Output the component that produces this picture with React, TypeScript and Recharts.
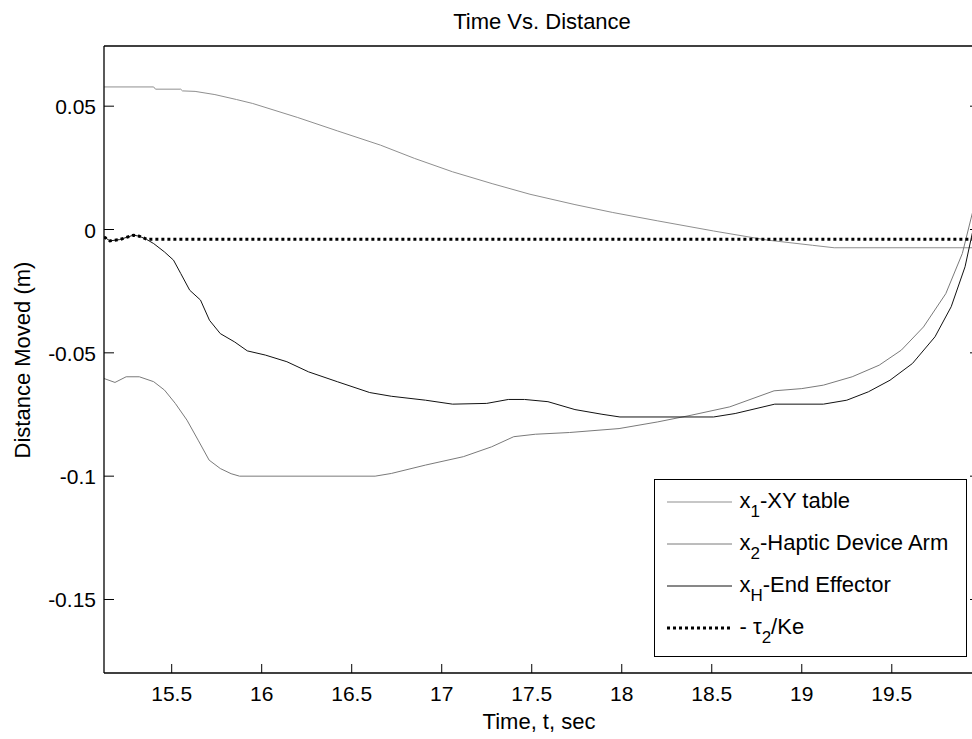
import React from 'react';
import { LineChart, Line, XAxis, YAxis, Legend } from 'recharts';

const FONT = '"Liberation Sans", Arial, Helvetica, sans-serif';

// x1 - XY table (time in sec, distance in m)
const tableTime = [15.124, 15.4, 15.41, 15.55, 15.56, 15.63, 15.74, 15.86, 15.95, 16.2, 16.42, 16.66, 16.85, 17.06, 17.28, 17.49, 17.74, 17.95, 18.2, 18.51, 18.81, 19.06, 19.18, 19.99];
const tableDist = [0.0578, 0.0578, 0.0569, 0.0569, 0.0562, 0.056, 0.0547, 0.0527, 0.0511, 0.0454, 0.04, 0.0342, 0.0288, 0.0234, 0.0186, 0.0143, 0.0101, 0.0069, 0.0035, -0.0006, -0.0043, -0.0064, -0.0074, -0.0074];

// x2 - haptic device arm
const armTime = [15.124, 15.185, 15.247, 15.32, 15.4, 15.46, 15.52, 15.585, 15.647, 15.708, 15.77, 15.83, 15.877, 16.63, 16.72, 16.91, 17.12, 17.277, 17.4, 17.52, 17.71, 17.985, 18.2, 18.385, 18.6, 18.846, 19.0, 19.12, 19.28, 19.43, 19.553, 19.676, 19.8, 19.892, 19.947, 19.99];
const armDist = [-0.0604, -0.062, -0.0597, -0.0597, -0.0617, -0.0651, -0.0705, -0.0773, -0.0854, -0.0935, -0.0969, -0.099, -0.1, -0.1, -0.0989, -0.0955, -0.0921, -0.0881, -0.084, -0.083, -0.0823, -0.0807, -0.078, -0.0753, -0.0719, -0.0654, -0.0645, -0.0631, -0.0597, -0.055, -0.0489, -0.0395, -0.026, -0.0097, 0.0065, 0.018];

// xH - end effector
const effTime = [15.124, 15.157, 15.21, 15.287, 15.32, 15.36, 15.4, 15.46, 15.51, 15.55, 15.6, 15.66, 15.71, 15.77, 15.85, 15.92, 16.02, 16.14, 16.26, 16.42, 16.6, 16.72, 16.91, 17.06, 17.25, 17.37, 17.46, 17.59, 17.74, 17.89, 17.99, 18.51, 18.63, 18.85, 19.12, 19.25, 19.37, 19.49, 19.615, 19.74, 19.83, 19.907, 19.947, 19.99];
const effDist = [-0.003, -0.0046, -0.0041, -0.0023, -0.0027, -0.004, -0.0057, -0.0091, -0.0124, -0.0178, -0.0246, -0.0286, -0.0368, -0.0422, -0.0456, -0.0492, -0.0509, -0.0536, -0.0577, -0.0617, -0.0661, -0.0676, -0.0692, -0.0708, -0.0705, -0.0689, -0.0689, -0.0698, -0.073, -0.0749, -0.076, -0.076, -0.0746, -0.0708, -0.0708, -0.0692, -0.0658, -0.0611, -0.0543, -0.0435, -0.0313, -0.0151, -0.0016, 0.01];

// -tau2/Ke
const tauTime = [15.124, 15.157, 15.21, 15.287, 15.32, 15.36, 19.99];
const tauDist = [-0.003, -0.0046, -0.0041, -0.0023, -0.0027, -0.0039, -0.0039];

const xTicks = [15.5, 16, 16.5, 17, 17.5, 18, 18.5, 19, 19.5];
const yTicks = [-0.15, -0.1, -0.05, 0, 0.05];
const xDomain = [15.124, 19.99];
const yDomain = [-0.1798, 0.0744];

const toPoints = (ts: number[], ds: number[]) => ts.map((t, i) => ({ t, d: ds[i] }));

const series = [
  { key: 'x1', pre: 'x', sub: '1', rest: '-XY table', data: toPoints(tableTime, tableDist), color: '#8f8f8f', width: 1, dash: undefined },
  { key: 'x2', pre: 'x', sub: '2', rest: '-Haptic Device Arm', data: toPoints(armTime, armDist), color: '#7a7a7a', width: 1, dash: undefined },
  { key: 'xH', pre: 'x', sub: 'H', rest: '-End Effector', data: toPoints(effTime, effDist), color: '#111', width: 1, dash: undefined },
  { key: 'tau', pre: '- \u03c4', sub: '2', rest: '/Ke', data: toPoints(tauTime, tauDist), color: '#000', width: 3, dash: '3 3' },
];

const BottomTick = ({ x, y, payload }: any) => (
  <g>
    <line x1={x} y1={y} x2={x} y2={y - 9} stroke="#000" />
    <text x={x} y={y + 28} textAnchor="middle" fontSize={21} fontFamily={FONT} fill="#000">
      {payload.value}
    </text>
  </g>
);

const TopTick = ({ x, y }: any) => <line x1={x} y1={y} x2={x} y2={y + 9} stroke="#000" />;

const LeftTick = ({ x, y, payload }: any) => (
  <g>
    <line x1={x} y1={y} x2={x + 10} y2={y} stroke="#000" />
    <text x={x - 8} y={y + 8} textAnchor="end" fontSize={21} fontFamily={FONT} fill="#000">
      {payload.value}
    </text>
  </g>
);

const RightTick = ({ x, y }: any) => <line x1={x} y1={y} x2={x - 10} y2={y} stroke="#000" />;

const LegendBox = () => (
  <div
    style={{
      position: 'relative',
      width: 313,
      height: 178,
      boxSizing: 'border-box',
      border: '1.5px solid #000',
      background: '#fff',
      fontFamily: FONT,
      fontSize: 22,
      color: '#000',
    }}
  >
    {series.map((s, i) => (
      <div
        key={s.key}
        style={{
          position: 'absolute',
          left: 11.5,
          top: 22 + i * 42 - 17,
          height: 32,
          display: 'flex',
          alignItems: 'center',
          whiteSpace: 'nowrap',
        }}
      >
        <svg width={65} height={32} style={{ display: 'block' }}>
          <line x1={0} x2={65} y1={17} y2={17} stroke={s.color} strokeWidth={s.width} strokeDasharray={s.dash} />
        </svg>
        <span style={{ marginLeft: 8, lineHeight: '32px' }}>
          {s.pre}
          <sub style={{ fontSize: 17, verticalAlign: '-9px', lineHeight: 0 }}>{s.sub}</sub>
          {s.rest}
        </span>
      </div>
    ))}
  </div>
);

export default function App() {
  const axisLine = { stroke: '#000', strokeWidth: 1.3 };
  return (
    <div style={{ position: 'absolute', left: 0, top: 0, width: 972, height: 739, overflow: 'hidden', background: '#fff' }}>
      <LineChart width={1000} height={739} margin={{ top: 45, right: 10, bottom: 26, left: 44 }}>
        <XAxis
          dataKey="t"
          type="number"
          domain={xDomain}
          ticks={xTicks}
          allowDataOverflow
          interval={0}
          height={40}
          tickSize={0}
          tickMargin={0}
          tickLine={false}
          axisLine={axisLine}
          tick={<BottomTick />}
        />
        <XAxis
          xAxisId="top"
          orientation="top"
          type="number"
          domain={xDomain}
          ticks={xTicks}
          allowDataOverflow
          interval={0}
          height={1}
          tickSize={0}
          tickMargin={0}
          tickLine={false}
          axisLine={axisLine}
          tick={<TopTick />}
        />
        <YAxis
          type="number"
          domain={yDomain}
          ticks={yTicks}
          allowDataOverflow
          interval={0}
          width={60}
          tickSize={0}
          tickMargin={0}
          tickLine={false}
          axisLine={axisLine}
          tick={<LeftTick />}
        />
        <YAxis
          yAxisId="right"
          orientation="right"
          type="number"
          domain={yDomain}
          ticks={yTicks}
          allowDataOverflow
          interval={0}
          width={10}
          tickSize={0}
          tickMargin={0}
          tickLine={false}
          axisLine={axisLine}
          tick={<RightTick />}
        />
        {series.map((s) => (
          <Line
            key={s.key}
            data={s.data}
            dataKey="d"
            type="linear"
            stroke={s.color}
            strokeWidth={s.width}
            strokeDasharray={s.dash}
            dot={false}
            activeDot={false}
            isAnimationActive={false}
          />
        ))}
        <Legend
          layout="vertical"
          align="center"
          verticalAlign="middle"
          wrapperStyle={{ left: 654, top: 479, width: 313, height: 178, margin: 0 }}
          content={() => <LegendBox />}
        />
      </LineChart>
      <svg
        width={972}
        height={739}
        style={{ position: 'absolute', left: 0, top: 0, pointerEvents: 'none' }}
        fontFamily={FONT}
        fill="#000"
      >
        <text x={542} y={28.5} textAnchor="middle" fontSize={22}>
          Time Vs. Distance
        </text>
        <text x={539} y={729} textAnchor="middle" fontSize={22}>
          Time, t, sec
        </text>
        <text transform="translate(30,360) rotate(-90)" textAnchor="middle" fontSize={22}>
          Distance Moved (m)
        </text>
      </svg>
    </div>
  );
}
